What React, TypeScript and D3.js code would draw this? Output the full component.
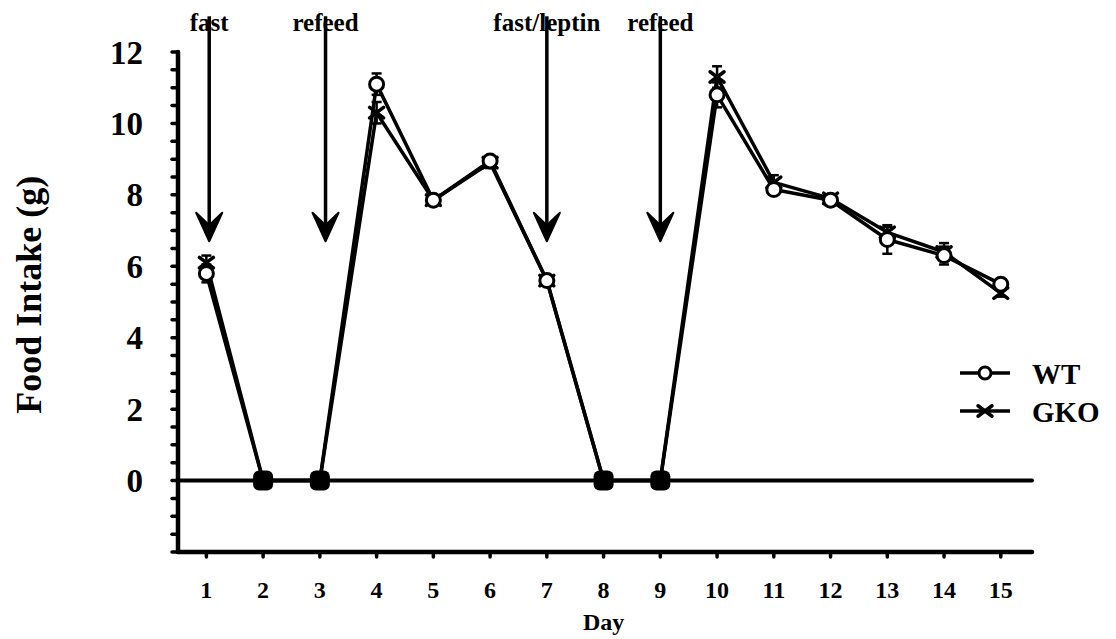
import * as d3 from "d3";

const days = [1, 2, 3, 4, 5, 6, 7, 8, 9, 10, 11, 12, 13, 14, 15];
const wtValues = [5.8, 0, 0, 11.1, 7.85, 8.95, 5.6, 0, 0, 10.8, 8.15, 7.85, 6.75, 6.3, 5.5];
const wtErrors = [0.25, 0.1, 0.1, 0.3, 0.1, 0.1, 0.1, 0.1, 0.1, 0.35, 0.15, 0.1, 0.4, 0.25, 0.1];
const gkoValues = [6.1, 0, 0, 10.3, 7.85, 8.9, 5.6, 0, 0, 11.3, 8.35, 7.9, 6.95, 6.4, 5.25];
const gkoErrors = [0.2, 0.1, 0.1, 0.3, 0.1, 0.15, 0.1, 0.1, 0.1, 0.3, 0.2, 0.1, 0.15, 0.25, 0.1];
const yTickLabels = [0, 2, 4, 6, 8, 10, 12];
const arrowDays = [1.05, 3.1, 7, 9];
const arrowLabels = ["fast", "refeed", "fast/leptin", "refeed"];
const seriesNames = ["WT", "GKO"];

const W = 1116;
const H = 639;
const font = "'Liberation Serif', 'Times New Roman', serif";

const App = () => {
  const x = d3.scaleLinear().domain([0.5, 15.55]).range([178, 1032]);
  const y = d3.scaleLinear().domain([-2, 12]).range([552, 52]);

  const line = d3
    .line<[number, number]>()
    .x((d) => x(d[0]))
    .y((d) => y(d[1]));

  const wtPts: [number, number][] = days.map((d, i) => [d, wtValues[i]]);
  const gkoPts: [number, number][] = days.map((d, i) => [d, gkoValues[i]]);
  const minorTicks = d3.range(-2, 12.01, 0.5);

  const xMark = (cx: number, cy: number, s: number, key?: string) => (
    <g key={key} stroke="#000" strokeWidth={3.5} strokeLinecap="round">
      <line x1={cx - s} y1={cy - s * 0.75} x2={cx + s} y2={cy + s * 0.75} />
      <line x1={cx - s} y1={cy + s * 0.75} x2={cx + s} y2={cy - s * 0.75} />
    </g>
  );

  const errBars = (vals: number[], errs: number[], key: string) =>
    days.map((d, i) => (
      <g key={key + i} stroke="#000" strokeWidth={2.5}>
        <line x1={x(d)} x2={x(d)} y1={y(vals[i] - errs[i])} y2={y(vals[i] + errs[i])} />
        <line x1={x(d) - 5} x2={x(d) + 5} y1={y(vals[i] + errs[i])} y2={y(vals[i] + errs[i])} />
        <line x1={x(d) - 5} x2={x(d) + 5} y1={y(vals[i] - errs[i])} y2={y(vals[i] - errs[i])} />
      </g>
    ));

  return (
    <svg
      width={W}
      height={H}
      style={{ position: "absolute", left: 0, top: 0, background: "#fff" }}
      fontFamily={font}
      fontWeight="bold"
    >
      {/* axes */}
      <line x1={x(0.5)} x2={x(0.5)} y1={y(12)} y2={y(-2)} stroke="#000" strokeWidth={4.5} strokeLinecap="round" />
      <line x1={x(0.5)} x2={x(15.55)} y1={y(-2)} y2={y(-2)} stroke="#000" strokeWidth={4.5} strokeLinecap="round" />
      <line x1={x(0.5)} x2={x(15.55)} y1={y(0)} y2={y(0)} stroke="#000" strokeWidth={4} strokeLinecap="round" />
      {minorTicks.map((t) => (
        <line key={"yt" + t} x1={x(0.5) - 6} x2={x(0.5)} y1={y(t)} y2={y(t)} stroke="#000" strokeWidth={3.5} strokeLinecap="round" />
      ))}
      {yTickLabels.map((t) => (
        <text key={"yl" + t} x={143} y={y(t)} dy="0.35em" textAnchor="end" fontSize={33}>
          {t}
        </text>
      ))}
      {days.map((d) => (
        <g key={"xt" + d}>
          <line x1={x(d)} x2={x(d)} y1={y(-2)} y2={y(-2) + 5} stroke="#000" strokeWidth={3.5} strokeLinecap="round" />
          <text x={x(d)} y={598} textAnchor="middle" fontSize={24}>
            {d}
          </text>
        </g>
      ))}
      <text x={x(8)} y={630} textAnchor="middle" fontSize={24}>
        Day
      </text>
      <text transform={`translate(41,${y(5.2)}) rotate(-90)`} textAnchor="middle" fontSize={36}>
        Food Intake (g)
      </text>

      {/* arrows */}
      {arrowDays.map((d, i) => (
        <g key={"ar" + i}>
          <line x1={x(d)} x2={x(d)} y1={y(13.0)} y2={y(7.1)} stroke="#000" strokeWidth={3.5} />
          <path
            d={`M${x(d) - 13},${y(7.5)} L${x(d)},${y(6.7)} L${x(d) + 13},${y(7.5)} L${x(d)},${y(7.15)} Z`}
            fill="#000"
            stroke="#000"
            strokeWidth={2}
            strokeLinejoin="round"
          />
          <text x={x(d)} y={31} textAnchor="middle" fontSize={25}>
            {arrowLabels[i]}
          </text>
        </g>
      ))}

      {/* series */}
      {errBars(wtValues, wtErrors, "we")}
      {errBars(gkoValues, gkoErrors, "ge")}
      <path d={line(wtPts) ?? ""} fill="none" stroke="#000" strokeWidth={3.5} strokeLinejoin="round" />
      <path d={line(gkoPts) ?? ""} fill="none" stroke="#000" strokeWidth={3.5} strokeLinejoin="round" />
      {gkoPts.map((p, i) => xMark(x(p[0]), y(p[1]), 7, "gx" + i))}
      {wtPts.map((p, i) =>
        p[1] === 0 ? (
          <rect key={"wc" + i} x={x(p[0]) - 10} y={y(0) - 10} width={20} height={20} rx={6} fill="#000" />
        ) : (
          <circle key={"wc" + i} cx={x(p[0])} cy={y(p[1])} r={7} fill="#fff" stroke="#000" strokeWidth={3} />
        )
      )}

      {/* legend */}
      {seriesNames.map((n, i) => {
        const ly = 373 + i * 38;
        return (
          <g key={"lg" + n}>
            <line x1={960} x2={1010} y1={ly} y2={ly} stroke="#000" strokeWidth={3.5} />
            {i === 0 ? (
              <circle cx={985} cy={ly} r={6} fill="#fff" stroke="#000" strokeWidth={3} />
            ) : (
              xMark(985, ly, 7)
            )}
            <text x={1032} y={ly} dy="0.38em" fontSize={29}>
              {n}
            </text>
          </g>
        );
      })}
    </svg>
  );
};

export default App;
